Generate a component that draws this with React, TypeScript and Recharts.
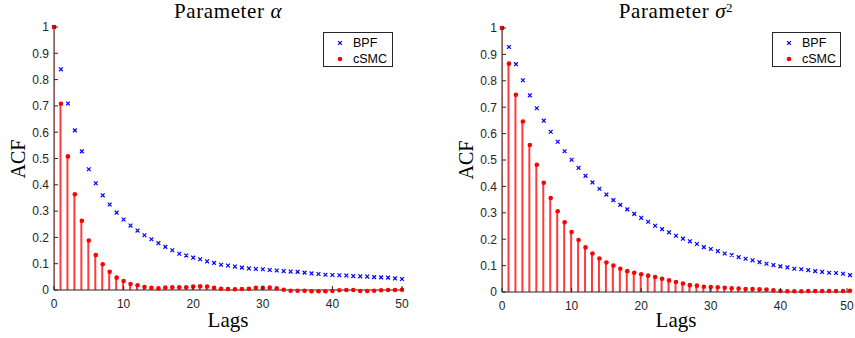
import React from "react";
import { ComposedChart, Bar, Scatter, XAxis, YAxis } from "recharts";

const lags = [
  0, 1, 2, 3, 4, 5, 6, 7, 8, 9, 10, 11, 12, 13, 14, 15, 16, 17, 18, 19, 20, 21, 22, 23, 24, 25,
  26, 27, 28, 29, 30, 31, 32, 33, 34, 35, 36, 37, 38, 39, 40, 41, 42, 43, 44, 45, 46, 47, 48, 49, 50,
];

const alphaBpf = [
  1, 0.839, 0.709, 0.607, 0.527, 0.459, 0.406, 0.36, 0.325, 0.294, 0.268, 0.245, 0.226, 0.208, 0.193,
  0.178, 0.164, 0.151, 0.138, 0.131, 0.123, 0.117, 0.109, 0.103, 0.096, 0.093, 0.089, 0.085, 0.082,
  0.08, 0.079, 0.076, 0.074, 0.072, 0.07, 0.069, 0.066, 0.063, 0.061, 0.058, 0.057, 0.056, 0.055,
  0.053, 0.052, 0.051, 0.049, 0.048, 0.047, 0.044, 0.042,
];

const alphaCsmc = [
  1, 0.708, 0.508, 0.364, 0.263, 0.188, 0.133, 0.098, 0.069, 0.047, 0.034, 0.023, 0.018, 0.011, 0.008,
  0.006, 0.009, 0.01, 0.01, 0.01, 0.013, 0.014, 0.013, 0.008, 0.005, 0.004, 0.003, 0.004, 0.005,
  0.008, 0.008, 0.009, 0.006, 0.001, -0.003, -0.003, -0.003, -0.005, -0.005, -0.005, -0.004, -0.001,
  0, 0, -0.004, -0.004, -0.003, -0.001, 0, 0, 0.001,
];

const sigmaBpf = [
  1, 0.928, 0.863, 0.802, 0.745, 0.696, 0.649, 0.607, 0.569, 0.533, 0.501, 0.47, 0.44, 0.415, 0.391,
  0.369, 0.348, 0.33, 0.313, 0.296, 0.281, 0.266, 0.251, 0.238, 0.226, 0.213, 0.202, 0.192, 0.182,
  0.17, 0.163, 0.155, 0.146, 0.14, 0.132, 0.126, 0.12, 0.113, 0.107, 0.102, 0.097, 0.093, 0.088,
  0.086, 0.083, 0.079, 0.076, 0.073, 0.072, 0.069, 0.064,
];

const sigmaCsmc = [
  1, 0.865, 0.747, 0.646, 0.557, 0.482, 0.414, 0.356, 0.306, 0.264, 0.227, 0.197, 0.169, 0.146, 0.127,
  0.112, 0.1, 0.088, 0.079, 0.073, 0.067, 0.062, 0.057, 0.05, 0.044, 0.038, 0.032, 0.026, 0.024,
  0.02, 0.019, 0.018, 0.016, 0.014, 0.013, 0.011, 0.011, 0.01, 0.009, 0.006, 0.004, 0.003, 0.003,
  0.003, 0.004, 0.004, 0.004, 0.004, 0.004, 0.004, 0.005,
];

const xTicks = [0, 10, 20, 30, 40, 50];
const yTicks = [0, 0.1, 0.2, 0.3, 0.4, 0.5, 0.6, 0.7, 0.8, 0.9, 1];
const seriesNames = ["BPF", "cSMC"];

const AXIS = "#262626";
const BLUE = "#0000ff";
const RED = "#ff0000";
const SANS = "'Liberation Sans', Arial, sans-serif";
const SERIF = "'Liberation Serif', 'Times New Roman', serif";

const Cross = (p: any) => {
  const { cx, cy } = p;
  if (cx == null || cy == null) return <g />;
  const s = 1.9;
  return (
    <path
      d={`M${cx - s},${cy - s}L${cx + s},${cy + s}M${cx - s},${cy + s}L${cx + s},${cy - s}`}
      stroke={BLUE}
      strokeWidth={1.2}
    />
  );
};

const Dot = (p: any) => {
  const { cx, cy } = p;
  if (cx == null || cy == null) return <g />;
  return <circle cx={cx} cy={cy} r={2.3} fill={RED} />;
};

const YTick = (p: any) => {
  const { x, y, payload } = p;
  return (
    <g>
      <line x1={x + 5} x2={x + 9} y1={y} y2={y} stroke={AXIS} />
      <text x={x} y={y} dy={4.3} textAnchor="end" fontSize={12} fontFamily={SANS} fill={AXIS}>
        {payload.value}
      </text>
    </g>
  );
};

const XTick = (p: any) => {
  const { x, y, payload } = p;
  return (
    <g>
      <line x1={x} x2={x} y1={y} y2={y - 4} stroke={AXIS} />
      <text x={x} y={y} dy={17.5} textAnchor="middle" fontSize={12} fontFamily={SANS} fill={AXIS}>
        {payload.value}
      </text>
    </g>
  );
};

function LegendBox({ left, width }: { left: number; width: number }) {
  return (
    <div
      style={{
        position: "absolute",
        left,
        top: 32,
        width,
        height: 35,
        boxSizing: "border-box",
        border: "1px solid #262626",
        background: "#fff",
        fontFamily: SANS,
        fontSize: 12.5,
        color: "#000",
      }}
    >
      {seriesNames.map((name, i) => (
        <div key={name} style={{ position: "absolute", left: 0, top: 2 + i * 16, height: 16, width: "100%" }}>
          <svg width={12} height={16} style={{ position: "absolute", left: 10, top: 0 }}>
            {i === 0 ? <Cross cx={6} cy={8} /> : <Dot cx={6} cy={8} />}
          </svg>
          <span style={{ position: "absolute", left: 29, top: 0, lineHeight: "16px" }}>{name}</span>
        </div>
      ))}
    </div>
  );
}

interface PanelProps {
  left: number;
  width: number;
  margin: { top: number; right: number; bottom: number; left: number };
  bpf: number[];
  csmc: number[];
  title: React.ReactNode;
  legendLeft: number;
  legendWidth: number;
}

function Panel({ left, width, margin, bpf, csmc, title, legendLeft, legendWidth }: PanelProps) {
  const rows = lags.map((lag, i) => ({ lag, bpf: bpf[i], csmc: csmc[i] }));
  const plotLeft = margin.left + 40;
  const plotCenter = plotLeft + (width - margin.right - plotLeft) / 2;
  const plotMid = margin.top + (338 - margin.top - margin.bottom - 30) / 2;

  return (
    <div style={{ position: "absolute", left, top: 0, width, height: 338 }}>
      <ComposedChart width={width} height={338} data={rows} margin={margin}>
        <XAxis
          dataKey="lag"
          type="number"
          domain={[0, 50]}
          ticks={xTicks}
          allowDataOverflow
          height={30}
          tickSize={0}
          tickMargin={0}
          tickLine={false}
          tick={<XTick />}
          stroke={AXIS}
        />
        <YAxis
          type="number"
          domain={[0, 1]}
          ticks={yTicks}
          allowDataOverflow
          width={40}
          tickSize={0}
          tickMargin={5}
          tickLine={false}
          tick={<YTick />}
          stroke={AXIS}
        />
        <Scatter dataKey="bpf" shape={<Cross />} isAnimationActive={false} />
        <Bar dataKey="csmc" barSize={2} fill="#ff3b3b" isAnimationActive={false} />
        <Scatter dataKey="csmc" shape={<Dot />} isAnimationActive={false} />
      </ComposedChart>

      <div
        style={{
          position: "absolute",
          left: plotCenter - 150,
          top: 1,
          width: 300,
          textAlign: "center",
          fontFamily: SERIF,
          fontSize: 21,
          letterSpacing: 0.6,
          lineHeight: "20px",
          color: "#000",
        }}
      >
        {title}
      </div>
      <div
        style={{
          position: "absolute",
          left: plotCenter - 60,
          top: 310,
          width: 120,
          textAlign: "center",
          fontFamily: SERIF,
          fontSize: 21,
          lineHeight: "20px",
          color: "#000",
        }}
      >
        Lags
      </div>
      <div
        style={{
          position: "absolute",
          left: plotLeft - 36.5 - 30,
          top: plotMid - 12,
          width: 60,
          height: 24,
          lineHeight: "24px",
          textAlign: "center",
          fontFamily: SERIF,
          fontSize: 20,
          color: "#000",
          transform: "rotate(-90deg)",
        }}
      >
        ACF
      </div>
      <LegendBox left={legendLeft} width={legendWidth} />
    </div>
  );
}

export default function App() {
  return (
    <div style={{ position: "absolute", left: 0, top: 0, width: 855, height: 338, background: "#fff", overflow: "hidden" }}>
      {/* markers in the reference are drawn past the axes, so don't clip the scatter layers */}
      <style>{`.recharts-scatter { clip-path: none !important; }`}</style>
      <Panel
        left={0}
        width={430}
        margin={{ top: 27, right: 28, bottom: 18, left: 14 }}
        bpf={alphaBpf}
        csmc={alphaCsmc}
        title={
          <span>
            Parameter <i>α</i>
          </span>
        }
        legendLeft={323}
        legendWidth={70}
      />
      <Panel
        left={430}
        width={425}
        margin={{ top: 28, right: 5, bottom: 16, left: 32 }}
        bpf={sigmaBpf}
        csmc={sigmaCsmc}
        title={
          <span>
            Parameter <i>σ</i>
            <sup style={{ fontSize: 13, lineHeight: 0, verticalAlign: "6px" }}>2</sup>
          </span>
        }
        legendLeft={342}
        legendWidth={69}
      />
    </div>
  );
}
